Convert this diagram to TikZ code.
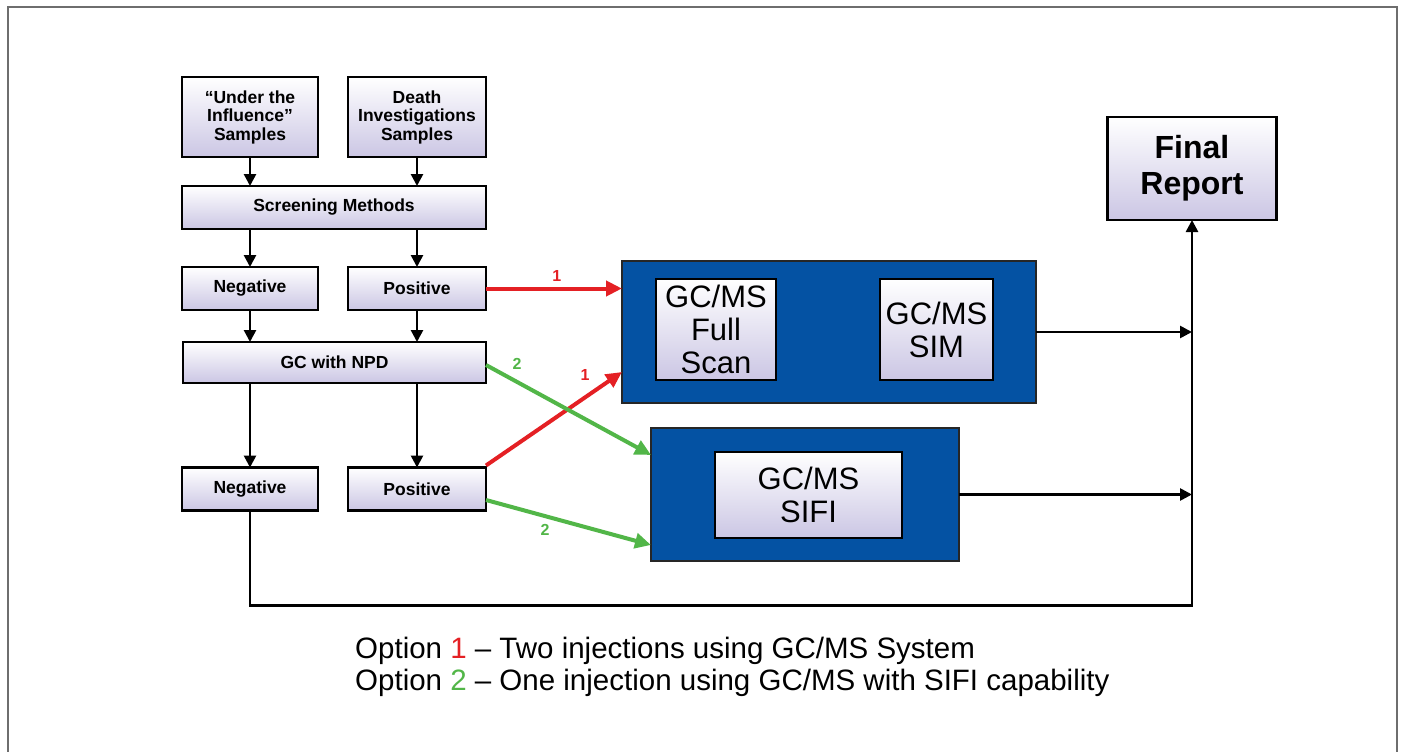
\documentclass[tikz,border=0pt]{standalone}
\usepackage{fontspec}
\setmainfont{Liberation Sans}
\usetikzlibrary{arrows.meta,calc}
\definecolor{lav}{RGB}{203,198,228}
\definecolor{blueC}{RGB}{4,82,163}
\definecolor{redC}{RGB}{228,32,36}
\definecolor{greenC}{RGB}{82,182,72}
\definecolor{frameC}{RGB}{110,110,110}
\tikzset{
  flowbox/.style={draw=black, line width=2.8pt, top color=white, bottom color=lav,
    inner sep=0pt, outer sep=0pt, align=center,
    font=\fontsize{17.5}{18.5}\selectfont\bfseries},
  bluebox/.style={draw=black!85, line width=2pt, fill=blueC, inner sep=0pt, outer sep=0pt},
  innerbox/.style={flowbox, line width=2.4pt, font=\fontsize{31}{33}\selectfont},
  finalbox/.style={flowbox, line width=2.6pt, font=\fontsize{32}{36}\selectfont\bfseries},
  arr/.style={line width=2.6pt, -{Triangle[length=12pt,width=12pt]}},
  redarr/.style={draw=redC, line width=4pt, -{Triangle[length=16pt,width=15pt]}},
  greenarr/.style={draw=greenC, line width=4pt, -{Triangle[length=16pt,width=15pt]}},
  numlab/.style={font=\fontsize{16}{16}\selectfont\bfseries, inner sep=0pt},
  legend/.style={font=\fontsize{29.5}{30}\selectfont, anchor=west, inner sep=0pt}
}
\begin{document}
\begin{tikzpicture}[x=1pt,y=1pt]
\useasboundingbox (0,0) rectangle (1401,-752);
% outer frame
\draw[frameC, line width=1.6pt] (8,-770) -- (8,-7) -- (1397,-7) -- (1397,-770);

% left column boxes
\node[flowbox, minimum width=136pt, minimum height=80pt] (u) at (250,-117) {“Under the\\Influence”\\Samples};
\node[flowbox, minimum width=138pt, minimum height=80pt] (d) at (417,-117) {Death\\Investigations\\Samples};
\node[flowbox, minimum width=304pt, minimum height=43pt] (scr) at (334,-207.5) {Screening Methods};
\node[flowbox, minimum width=136pt, minimum height=43pt] (neg1) at (250,-288.5) {Negative};
\node[flowbox, minimum width=138pt, minimum height=43pt] (pos1) at (417,-288.5) {Positive};
\node[flowbox, minimum width=303pt, minimum height=41pt] (gc) at (334.5,-362.5) {GC with NPD};
\node[flowbox, minimum width=136pt, minimum height=43pt] (neg2) at (250,-489) {Negative};
\node[flowbox, minimum width=138pt, minimum height=43pt] (pos2) at (417,-489) {Positive};

% blue instrument boxes
\node[bluebox, minimum width=414pt, minimum height=142pt] (b1) at (829,-332) {};
\node[innerbox, minimum width=120pt, minimum height=101pt] (fs) at (716,-329.5) {GC/MS\\Full\\Scan};
\node[innerbox, minimum width=113pt, minimum height=101pt] (sim) at (936.5,-329.5) {GC/MS\\SIM};
\node[bluebox, minimum width=308pt, minimum height=133pt] (b2) at (805,-494.5) {};
\node[innerbox, minimum width=187pt, minimum height=86pt] (sifi) at (808.5,-495) {GC/MS\\SIFI};

% final report
\node[finalbox, minimum width=169pt, minimum height=103pt] (fr) at (1192,-168.5) {Final\\Report};

% black flow arrows
\draw[arr] (u.south) -- (u.south |- scr.north);
\draw[arr] (d.south) -- (d.south |- scr.north);
\draw[arr] (neg1.north |- scr.south) -- (neg1.north);
\draw[arr] (pos1.north |- scr.south) -- (pos1.north);
\draw[arr] (neg1.south) -- (neg1.south |- gc.north);
\draw[arr] (pos1.south) -- (pos1.south |- gc.north);
\draw[arr] (neg2.north |- gc.south) -- (neg2.north);
\draw[arr] (pos2.north |- gc.south) -- (pos2.north);

% to final report
\draw[arr] (b1.east) -- (b1.east -| fr.south);
\draw[arr] (b2.east) -- (b2.east -| fr.south);
\draw[arr] (neg2.south) -- ++(0,-95) -| (fr.south);

% option arrows
\draw[redarr] (pos1.east) -- (pos1.east -| b1.west) node[numlab, text=redC, pos=0.52, above=5pt] {1};
\draw[redarr] ([yshift=2pt]pos2.north east) -- ([yshift=-40pt]b1.west);
\node[numlab, text=redC] (r1lab) at (585,-375) {1};
\draw[greenarr] ([yshift=-2.5pt]gc.east) -- ([yshift=39.5pt]b2.west);
\node[numlab, text=greenC] (g1lab) at (517,-364) {2};
\draw[greenarr] ([yshift=-11pt]pos2.east) -- ([yshift=-50.5pt]b2.west);
\node[numlab, text=greenC] (g2lab) at (545,-530) {2};

% legend
\node[legend] (l1) at (355,-651) {Option \textcolor{redC}{1} – Two injections using GC/MS System};
\node[legend] (l2) at (355,-683) {Option \textcolor{greenC}{2} – One injection using GC/MS with SIFI capability};
\end{tikzpicture}
\end{document}
